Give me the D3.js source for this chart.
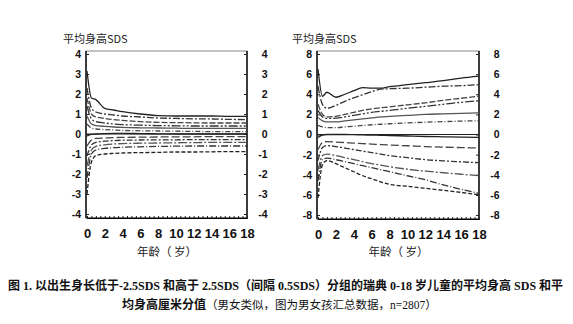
<!DOCTYPE html>
<html><head><meta charset="utf-8">
<script src="https://cdn.jsdelivr.net/npm/d3@7/dist/d3.min.js"></script>
<style>body{margin:0;background:#fff}svg{display:block}</style>
</head><body><svg id="c" width="573" height="324"></svg>
<script>
// ---- data ----
const xTicks = [0,2,4,6,8,10,12,14,16,18];
const leftYTicks = [-4,-3,-2,-1,0,1,2,3,4];
const rightYTicks = [-8,-6,-4,-2,0,2,4,6,8];
const yTitle = "平均身高SDS";
const xTitle = "年龄（ 岁）";
const leftAges = [0,0.5,1,2,3,4,6,8,10,12,14,16,18];
const L1 = [3.15,1.8,1.72,1.28,1.2,1.12,1.0,0.92,0.9,0.9,0.9,0.88,0.88];
const L2 = [2.3,1.3,1.1,1.0,0.95,0.9,0.85,0.8,0.78,0.76,0.75,0.73,0.72];
const L3 = [1.8,1.0,0.85,0.78,0.72,0.68,0.62,0.58,0.57,0.56,0.55,0.55,0.55];
const L4 = [1.4,0.75,0.62,0.55,0.5,0.47,0.44,0.42,0.41,0.4,0.4,0.4,0.4];
const L5 = [0.9,0.5,0.42,0.38,0.35,0.33,0.31,0.3,0.29,0.28,0.28,0.28,0.28];
const L6 = [0.5,0.3,0.25,0.22,0.2,0.18,0.16,0.15,0.14,0.13,0.12,0.12,0.12];
const L7 = [-0.1,-0.02,0.0,0.02,0.03,0.03,0.02,0.01,0.0,0.0,0.0,0.0,0.0];
const L8 = [-0.6,-0.3,-0.22,-0.2,-0.18,-0.17,-0.16,-0.15,-0.14,-0.14,-0.13,-0.13,-0.13];
const L9 = [-1.1,-0.55,-0.42,-0.36,-0.33,-0.31,-0.3,-0.29,-0.29,-0.28,-0.28,-0.28,-0.28];
const L10 = [-1.6,-0.8,-0.62,-0.54,-0.5,-0.48,-0.46,-0.45,-0.44,-0.43,-0.42,-0.42,-0.42];
const L11 = [-2.2,-1.0,-0.8,-0.72,-0.68,-0.66,-0.64,-0.62,-0.61,-0.6,-0.6,-0.6,-0.6];
const L12 = [-3.0,-1.4,-1.08,-1.0,-0.97,-0.95,-0.93,-0.92,-0.9,-0.9,-0.89,-0.88,-0.88];
const rightAges = [0,0.5,1,2,3,4,5,6,7,8,10,12,14,16,18];
const R1 = [6.5,3.8,4.2,3.7,4.0,4.35,4.65,4.6,4.6,4.75,4.95,5.15,5.35,5.6,5.8];
const R2 = [4.8,3.0,2.6,2.9,3.3,3.65,3.95,4.25,4.5,4.55,4.6,4.7,4.8,4.85,4.95];
const R3 = [3.0,2.0,1.75,1.8,2.0,2.2,2.4,2.55,2.65,2.75,2.95,3.15,3.4,3.6,3.8];
const R4 = [2.4,1.75,1.6,1.62,1.75,1.9,2.05,2.2,2.3,2.4,2.6,2.8,3.0,3.2,3.35];
const R5 = [1.7,1.35,1.25,1.25,1.35,1.45,1.55,1.65,1.75,1.8,1.9,2.0,2.05,2.1,2.15];
const R6 = [0.9,0.75,0.68,0.68,0.75,0.82,0.9,0.97,1.02,1.07,1.15,1.22,1.28,1.33,1.37];
const R7 = [-0.3,-0.05,0,0,0,-0.02,-0.04,-0.06,-0.08,-0.1,-0.15,-0.2,-0.23,-0.26,-0.28];
const R8 = [-1.5,-0.8,-0.7,-0.75,-0.8,-0.85,-0.9,-0.95,-1.0,-1.05,-1.12,-1.2,-1.26,-1.3,-1.34];
const R9 = [-2.6,-1.3,-1.1,-1.2,-1.35,-1.5,-1.65,-1.8,-1.95,-2.1,-2.3,-2.5,-2.62,-2.72,-2.8];
const R10 = [-3.6,-2.1,-1.95,-2.1,-2.3,-2.5,-2.7,-2.9,-3.05,-3.2,-3.45,-3.65,-3.8,-3.95,-4.1];
const R11 = [-4.6,-2.5,-2.35,-2.5,-2.7,-2.9,-3.1,-3.3,-3.5,-3.7,-4.1,-4.5,-5.0,-5.45,-5.85];
const R12 = [-6.3,-3.0,-2.6,-2.9,-3.3,-3.7,-4.1,-4.4,-4.7,-4.95,-5.15,-5.35,-5.55,-5.75,-6.0];
const caption1 = "图 1. 以出生身长低于-2.5SDS 和高于 2.5SDS（间隔 0.5SDS）分组的瑞典 0-18 岁儿童的平均身高 SDS 和平";
const caption2a = "均身高厘米分值";
const caption2b = "（男女类似，图为男女孩汇总数据，n=2807）";

const leftSeries = [L1,L2,L3,L4,L5,L6,L7,L8,L9,L10,L11,L12];
const rightSeries = [R1,R2,R3,R4,R5,R6,R7,R8,R9,R10,R11,R12];

const svg = d3.select("#c");
const dashes = ["none","7,2,2,2","6,2","9,2,2,2,2,2","none","5,2,1,2","none","8,3","6,2,2,2","9,2,2,2","7,2,1,2","4,2"];
const colors = ["#222","#333","#444","#333","#555","#444","#222","#444","#333","#555","#333","#222"];

function panel(o){
  const x = d3.scaleLinear().domain([0,18]).range([o.x0,o.x1]);
  const y = d3.scaleLinear().domain(o.ydom).range([o.y0,o.y1]);
  const g = svg.append("g");
  g.append("rect").attr("x",o.x0-1).attr("y",o.fy0).attr("width",o.x1-o.x0+1).attr("height",o.fy1-o.fy0)
    .attr("fill","none").attr("stroke","#888").attr("stroke-width",1);
  g.append("line").attr("x1",o.x0-1).attr("x2",o.x0-1).attr("y1",o.fy0).attr("y2",o.fy1).attr("stroke","#111").attr("stroke-width",1.5);
  g.append("line").attr("x1",o.x1).attr("x2",o.x1).attr("y1",o.fy0).attr("y2",o.fy1).attr("stroke","#111").attr("stroke-width",1.5);
  g.append("line").attr("x1",o.x0-1).attr("x2",o.x1).attr("y1",o.fy1).attr("y2",o.fy1).attr("stroke","#333").attr("stroke-width",1.2);
  const yl = g.append("g").attr("transform",`translate(${o.x0-1},0)`)
    .call(d3.axisLeft(y).tickValues(o.yt).tickSize(-3).tickPadding(5).tickFormat(d=>d<0?"-"+Math.abs(d):d));
  const yr = g.append("g").attr("transform",`translate(${o.x1},0)`)
    .call(d3.axisRight(y).tickValues(o.yt).tickSize(-3).tickPadding(9).tickFormat(d=>d<0?"-"+Math.abs(d):d));
  yr.selectAll("text").attr("text-anchor","end").attr("dx","1.1em");
  const xa = g.append("g").attr("transform",`translate(0,${o.fy1})`)
    .call(d3.axisBottom(x).tickValues(xTicks).tickSize(0).tickPadding(11));
  g.append("g").attr("transform",`translate(0,${o.fy1})`)
    .call(d3.axisBottom(x).tickValues(d3.range(0,18.01,0.5)).tickSize(-2).tickFormat(""));
  [yl,yr,xa].forEach(a=>{a.select(".domain").remove();
    a.selectAll("text").attr("font-family","Liberation Sans, Arial, sans-serif").attr("font-weight","bold").attr("fill","#111");});
  yl.selectAll("text").attr("font-size",10.5); yr.selectAll("text").attr("font-size",10.5);
  xa.selectAll("text").attr("font-size",13);
  g.selectAll(".tick line").attr("stroke","#222");
  g.append("line").attr("x1",x(0)).attr("x2",x(18)).attr("y1",y(0)).attr("y2",y(0)).attr("stroke","#222").attr("stroke-width",1);
  const line = d3.line().x((d,i)=>x(o.ages[i])).y(d=>y(d)).curve(d3.curveMonotoneX);
  o.series.forEach((s,i)=>{
    g.append("path").attr("d",line(s)).attr("fill","none").attr("stroke",colors[i])
      .attr("stroke-width",1.3).attr("stroke-dasharray",dashes[i]);
  });
  g.append("text").attr("x",o.tx).attr("y",43).text(yTitle)
    .attr("font-family","Noto Sans CJK SC, sans-serif").attr("font-size",11).attr("fill","#222");
  g.append("text").attr("x",(o.x0+o.x1)/2).attr("y",256).attr("text-anchor","middle").text(xTitle)
    .attr("font-family","Noto Sans CJK SC, sans-serif").attr("font-size",11.5).attr("fill","#222");
}

panel({x0:87,x1:247,y0:214,y1:54,fy0:51,fy1:218,ydom:[-4,4],yt:leftYTicks,ages:leftAges,series:leftSeries,tx:63});
panel({x0:318,x1:479,y0:215,y1:54,fy0:51,fy1:219,ydom:[-8,8],yt:rightYTicks,ages:rightAges,series:rightSeries,tx:292});

const c1 = svg.append("text").attr("x",8).attr("y",290).text(caption1)
  .attr("font-family","Liberation Serif, Noto Sans CJK SC, serif").attr("font-weight","bold")
  .attr("font-size",12.5).attr("fill","#111");
// fit line 1 into the reference width by adjusting font size (no glyph squeezing)
let fs = 12.5;
for (let k=0;k<20;k++){
  const w = c1.node().getComputedTextLength();
  if (w <= 556) break;
  fs -= 0.1; c1.attr("font-size",fs);
}
const t2 = svg.append("text").attr("x",122).attr("y",309).attr("font-family","Liberation Serif, Noto Sans CJK SC, serif").attr("fill","#111");
t2.append("tspan").text(caption2a).attr("font-weight","bold").attr("font-size",fs);
t2.append("tspan").text(caption2b).attr("font-size",11.5);
</script></body></html>
